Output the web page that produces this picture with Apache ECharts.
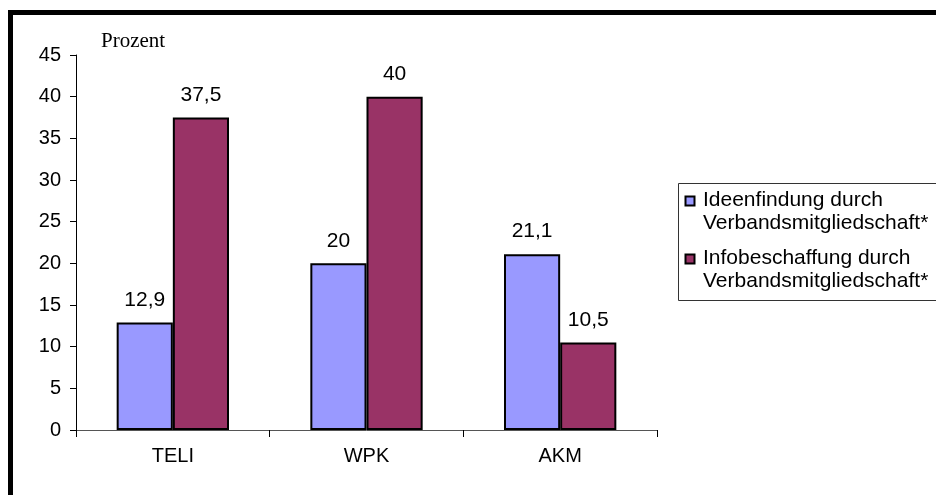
<!DOCTYPE html>
<html>
<head>
<meta charset="utf-8">
<script src="https://cdn.jsdelivr.net/npm/echarts@6/dist/echarts.min.js"></script>
<style>
  html, body { margin: 0; padding: 0; background: #fff; }
  #chart { width: 936px; height: 495px; }
</style>
</head>
<body>
<div id="chart"></div>
<script>
// Survey shares per organisation (percent)
const categories = ['TELI', 'WPK', 'AKM'];
const seriesNames = ['Ideenfindung durch Verbandsmitgliedschaft*', 'Infobeschaffung durch Verbandsmitgliedschaft*'];
const legendLines = [['Ideenfindung durch', 'Verbandsmitgliedschaft*'], ['Infobeschaffung durch', 'Verbandsmitgliedschaft*']];
const ideenfindung = [12.9, 20, 21.1];
const infobeschaffung = [37.5, 40, 10.5];
const yTicks = [0, 5, 10, 15, 20, 25, 30, 35, 40, 45];
const unitLabel = 'Prozent';

const colors = ['#9999FF', '#993366'];
const font = 'Arial, "Liberation Sans", sans-serif';

const chart = echarts.init(document.getElementById('chart'));

const labelOpt = {
  show: true,
  position: 'top',
  distance: 12,
  color: '#000',
  fontFamily: font,
  fontSize: 21,
  formatter: p => String(p.value).replace('.', ',')
};

// Legend drawn as a framed box with two-line entries
const legendGraphics = [{
  type: 'rect',
  shape: { x: 678.5, y: 183.5, width: 270, height: 117 },
  style: { fill: '#fff', stroke: '#333', lineWidth: 1 },
  z: 10
}];
legendLines.forEach((lines, i) => {
  const top = 189 + i * 58;
  legendGraphics.push({
    type: 'rect',
    shape: { x: 685.5, y: top + 7.5, width: 9, height: 9 },
    style: { fill: colors[i], stroke: '#000', lineWidth: 2 },
    z: 11
  });
  legendGraphics.push({
    type: 'text',
    x: 703, y: top,
    style: {
      text: lines.join('\n'),
      font: '21px ' + font,
      lineHeight: 23,
      fill: '#000',
      verticalAlign: 'top'
    },
    z: 11
  });
});

chart.setOption({
  animation: false,
  backgroundColor: '#fff',
  grid: { left: 76, right: 279, top: 55, bottom: 65, containLabel: false },
  xAxis: {
    type: 'category',
    data: categories,
    axisLine: { show: true, lineStyle: { color: '#555', width: 1 } },
    axisTick: { show: true, alignWithLabel: false, length: 7, lineStyle: { color: '#000' } },
    axisLabel: { color: '#000', fontFamily: font, fontSize: 20, margin: 16 },
    splitLine: { show: false }
  },
  yAxis: {
    type: 'value',
    min: yTicks[0],
    max: yTicks[yTicks.length - 1],
    interval: yTicks[1] - yTicks[0],
    axisLine: { show: true, lineStyle: { color: '#000', width: 1 } },
    axisTick: { show: true, inside: false, length: 6, lineStyle: { color: '#000' } },
    axisLabel: { color: '#000', fontFamily: font, fontSize: 20, margin: 15 },
    splitLine: { show: false }
  },
  series: [
    {
      name: seriesNames[0],
      type: 'bar',
      data: ideenfindung,
      barGap: '0%',
      barCategoryGap: '42%',
      itemStyle: { color: colors[0], borderColor: '#000', borderWidth: 2 },
      label: labelOpt
    },
    {
      name: seriesNames[1],
      type: 'bar',
      data: infobeschaffung,
      barGap: '0%',
      barCategoryGap: '42%',
      itemStyle: { color: colors[1], borderColor: '#000', borderWidth: 2 },
      label: labelOpt
    }
  ],
  graphic: [
    // outer frame (top and left edges)
    { type: 'rect', shape: { x: 8, y: 10, width: 940, height: 5 }, style: { fill: '#000' }, z: 20 },
    { type: 'rect', shape: { x: 8, y: 10, width: 5, height: 500 }, style: { fill: '#000' }, z: 20 },
    {
      type: 'text', x: 101, y: 31,
      style: { text: unitLabel, font: '21px "Liberation Serif", "Times New Roman", serif', fill: '#000', verticalAlign: 'top' },
      z: 11
    }
  ].concat(legendGraphics)
});
</script>
</body>
</html>
